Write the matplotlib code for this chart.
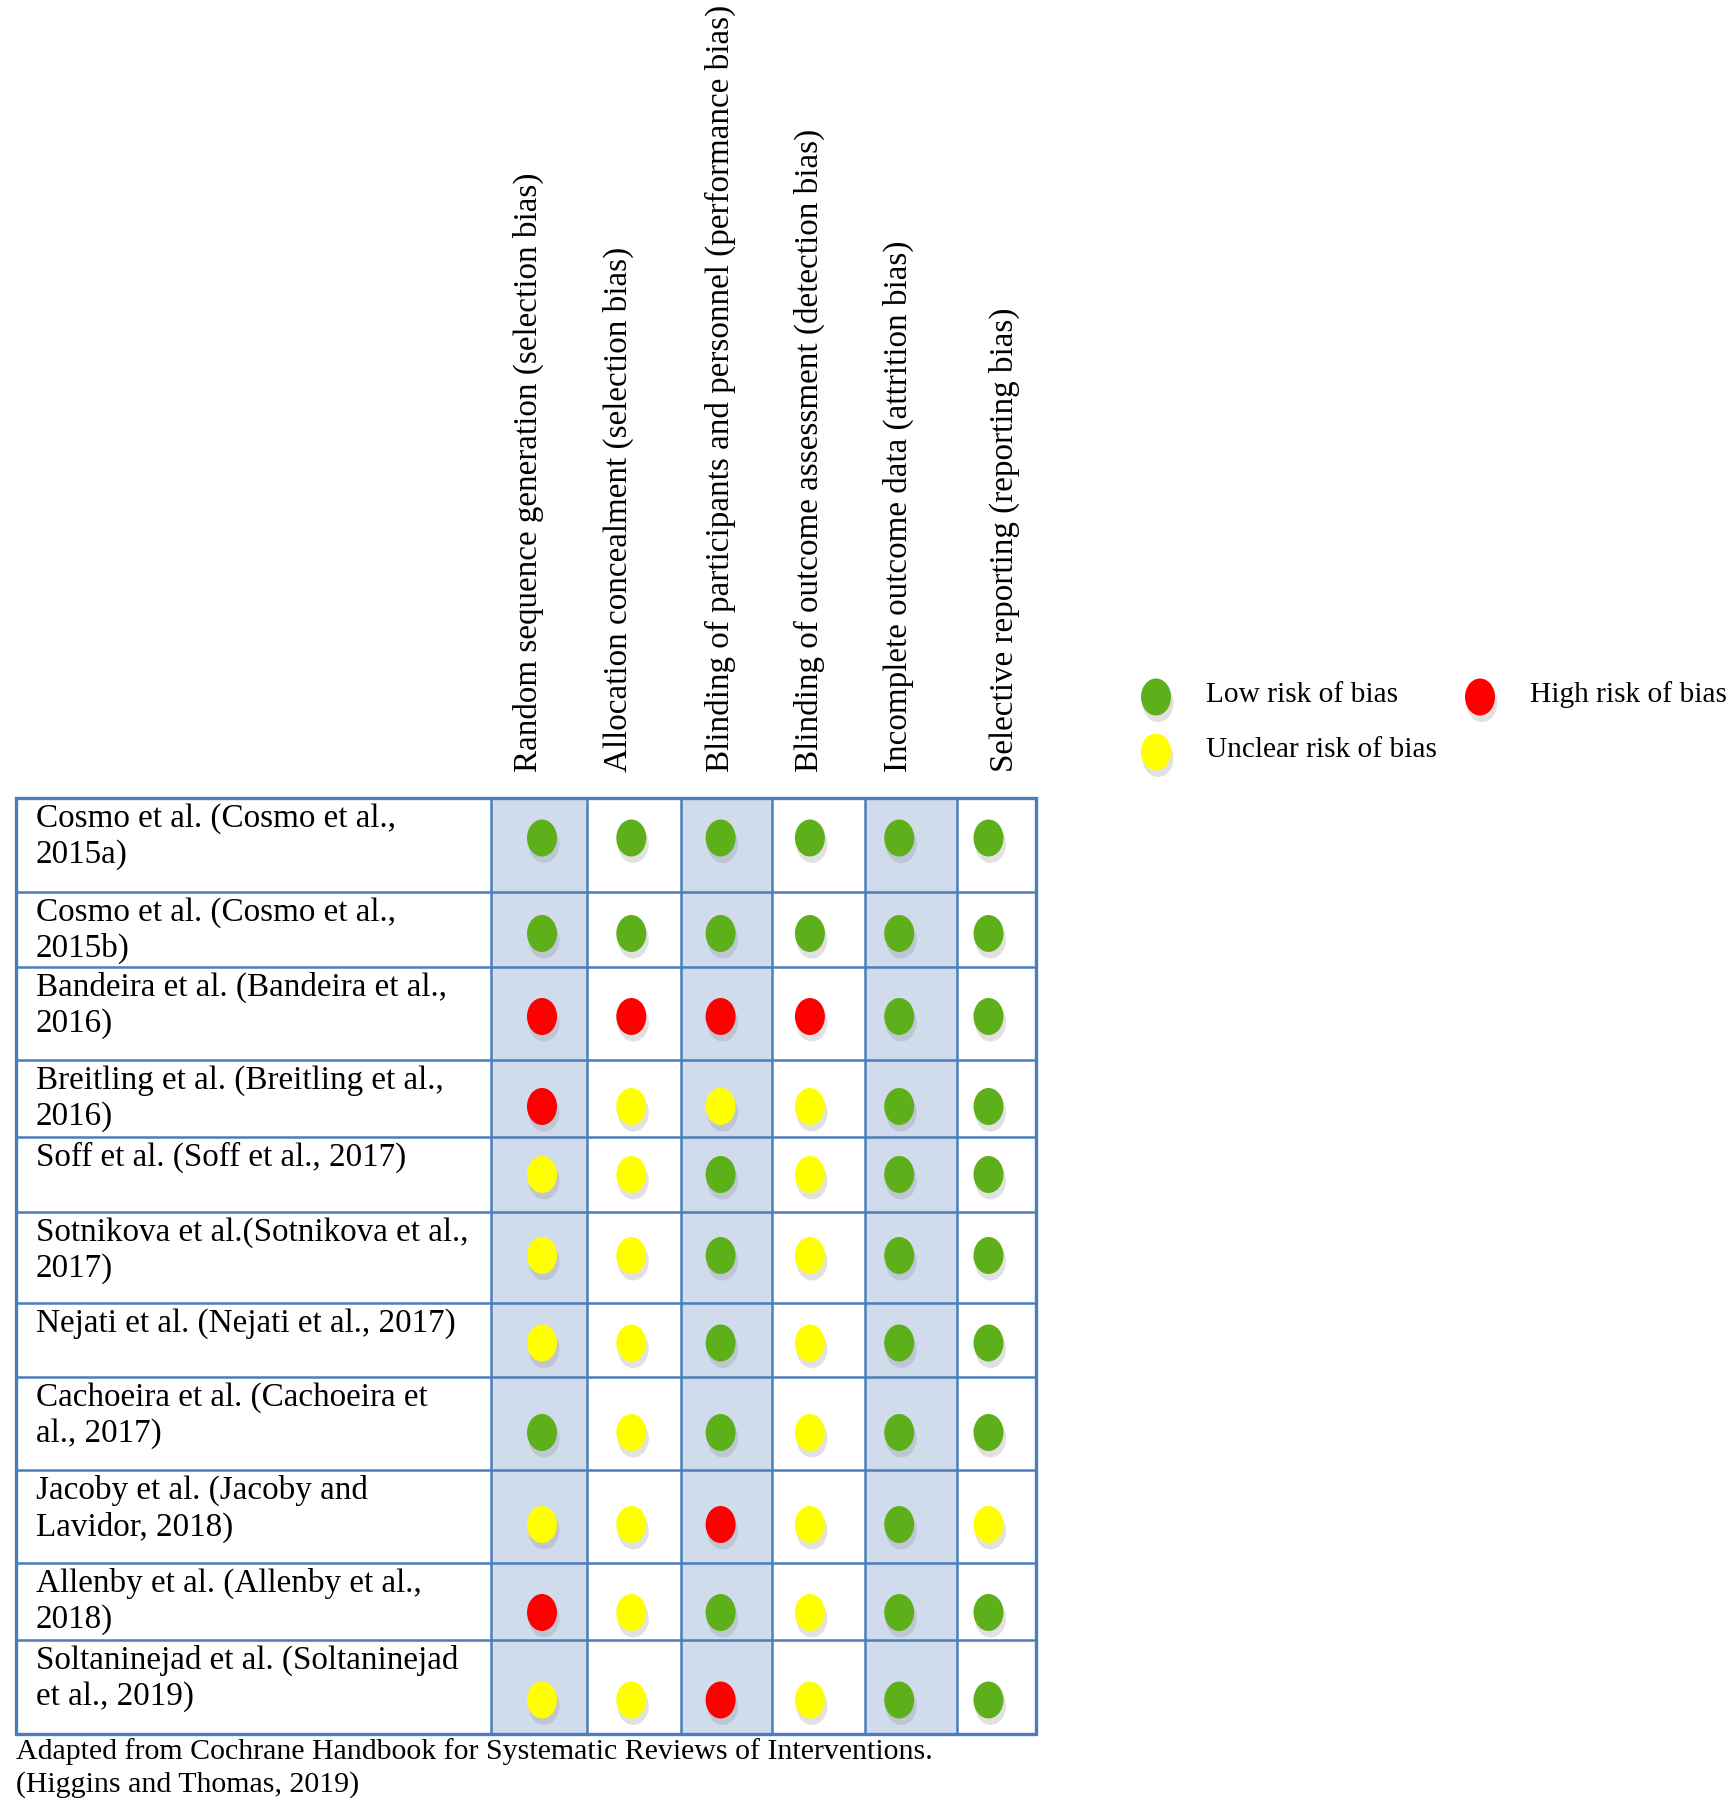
import numpy as np
import matplotlib.pyplot as plt
from matplotlib.patches import Ellipse, Rectangle

plt.rcParams['font.family'] = ['Liberation Serif', 'DejaVu Serif']

# ---- data ----
domains = ['Random sequence generation (selection bias)',
           'Allocation concealment (selection bias)',
           'Blinding of participants and personnel (performance bias)',
           'Blinding of outcome assessment (detection bias)',
           'Incomplete outcome data (attrition bias)',
           'Selective reporting (reporting bias)']

studies = ['Cosmo et al. (Cosmo et al.,\n2015a)',
           'Cosmo et al. (Cosmo et al.,\n2015b)',
           'Bandeira et al. (Bandeira et al.,\n2016)',
           'Breitling et al. (Breitling et al.,\n2016)',
           'Soff et al. (Soff et al., 2017)',
           'Sotnikova et al.(Sotnikova et al.,\n2017)',
           'Nejati et al. (Nejati et al., 2017)',
           'Cachoeira et al. (Cachoeira et\nal., 2017)',
           'Jacoby et al. (Jacoby and\nLavidor, 2018)',
           'Allenby et al. (Allenby et al.,\n2018)',
           'Soltaninejad et al. (Soltaninejad\net al., 2019)']

# L = low, U = unclear, H = high
judgements = [['L', 'L', 'L', 'L', 'L', 'L'],
              ['L', 'L', 'L', 'L', 'L', 'L'],
              ['H', 'H', 'H', 'H', 'L', 'L'],
              ['H', 'U', 'U', 'U', 'L', 'L'],
              ['U', 'U', 'L', 'U', 'L', 'L'],
              ['U', 'U', 'L', 'U', 'L', 'L'],
              ['U', 'U', 'L', 'U', 'L', 'L'],
              ['L', 'U', 'L', 'U', 'L', 'L'],
              ['U', 'U', 'H', 'U', 'L', 'U'],
              ['H', 'U', 'L', 'U', 'L', 'L'],
              ['U', 'U', 'H', 'U', 'L', 'L']]

legend_labels = {'L': 'Low risk of bias', 'H': 'High risk of bias',
                 'U': 'Unclear risk of bias'}
footnote = ('Adapted from Cochrane Handbook for Systematic Reviews of Interventions.\n'
            '(Higgins and Thomas, 2019)')

# ---- layout (pixels) ----
colors = {'L': '#5eb01b', 'U': '#ffff00', 'H': '#ff0000'}
edge = '#4a7ebb'
shade = '#d0dcec'
col_edges = [16, 491, 587, 681, 772, 865, 957, 1036]
row_edges = [798, 892, 967, 1060, 1137, 1212, 1303, 1377, 1470, 1563, 1640, 1734]
dot_shift = [-7, 4, 3, 8, 0, -2, 3, 9, 8, 11, 13]
dot_x0, dot_dx = 542, 89.3
head_shift = [-14, -13, 0, -1, -1, 16]
fs = 23.9
fs_small = 21.2

fig = plt.figure(figsize=(17.29, 18), dpi=100)
ax = fig.add_axes([0, 0, 1, 1])
ax.set_xlim(0, 1729)
ax.set_ylim(1800, 0)
ax.axis('off')

top, bottom = row_edges[0], row_edges[-1]

# shaded columns
for j in range(len(domains)):
    if j % 2 == 0:
        ax.add_patch(Rectangle((col_edges[j + 1], top), col_edges[j + 2] - col_edges[j + 1],
                               bottom - top, facecolor=shade, edgecolor='none', zorder=1))

# grid lines
for x in col_edges:
    ax.plot([x, x], [top, bottom], color=edge, lw=1.8, zorder=2)
for y in row_edges:
    ax.plot([col_edges[0], col_edges[-1]], [y, y], color=edge, lw=1.8, zorder=2)
ax.add_patch(Rectangle((col_edges[0], top), col_edges[-1] - col_edges[0], bottom - top,
                       facecolor='none', edgecolor=edge, lw=2.4, zorder=3))


def dot(x, y, c):
    ax.add_patch(Ellipse((x + 2, y + 6), 31, 38, facecolor='#888888', alpha=0.25,
                         edgecolor='none', zorder=4))
    ax.add_patch(Ellipse((x, y), 30, 37, facecolor=c, edgecolor='none', zorder=5))


# study labels and dots
for i, name in enumerate(studies):
    y0, y1 = row_edges[i], row_edges[i + 1]
    ax.text(36, y0 + 5, name, fontsize=fs, va='top', ha='left', linespacing=1.22, zorder=6)
    yc = (y0 + y1) / 2 + dot_shift[i]
    for j, r in enumerate(judgements[i]):
        dot(dot_x0 + dot_dx * j, yc, colors[r])

# column headers
for j, d in enumerate(domains):
    xc = dot_x0 + dot_dx * j + head_shift[j]
    ax.text(xc, 772, d, fontsize=fs, rotation=90, ha='center', va='bottom')

# legend
for key, (lx, ly) in zip(['L', 'H', 'U'], [(1156, 697), (1480, 697), (1156, 752)]):
    dot(lx, ly, colors[key])
    ax.text(lx + 50, ly - 2, legend_labels[key], fontsize=fs_small, va='center', ha='left')

ax.text(16, 1738, footnote, fontsize=21.5, va='top', ha='left', linespacing=1.3)

fig.savefig('out.png', dpi=100)
